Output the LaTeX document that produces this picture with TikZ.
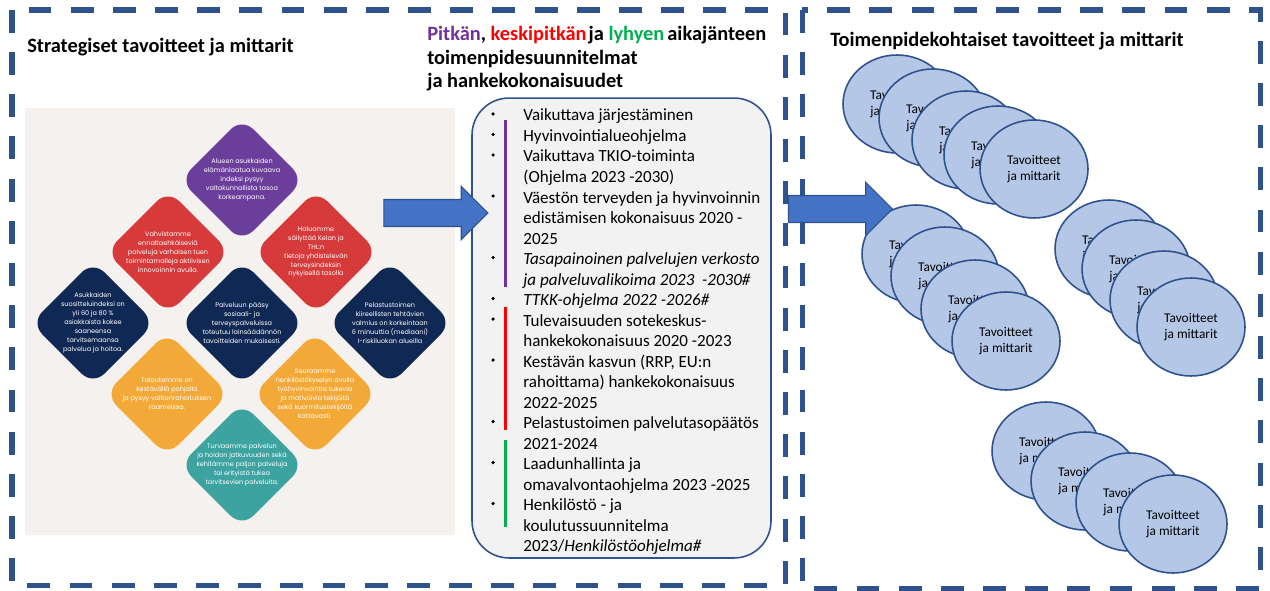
\documentclass[tikz,border=0pt]{standalone}
\usepackage{fontspec}
\setmainfont{Carlito}
\newfontfamily\timanttifont{Poppins}
\usetikzlibrary{shapes.geometric,shapes.arrows}

\definecolor{kehys}{RGB}{47,82,143}
\definecolor{nuoli}{RGB}{68,114,196}
\definecolor{pallo}{RGB}{180,199,231}
\definecolor{laatikko}{RGB}{242,242,242}
\definecolor{kuvatausta}{RGB}{244,241,238}
\definecolor{violetti}{RGB}{112,48,160}
\definecolor{punainen}{RGB}{255,0,0}
\definecolor{vihrea}{RGB}{0,176,80}
\definecolor{dvioletti}{RGB}{107,62,155}
\definecolor{dpunainen}{RGB}{214,58,58}
\definecolor{dsininen}{RGB}{16,40,84}
\definecolor{doranssi}{RGB}{242,169,56}
\definecolor{dturkoosi}{RGB}{60,163,160}

\tikzset{
  katkoviiva/.style={draw=kehys, line width=2.85pt, dash pattern=on 13pt off 11pt},
  otsikko/.style={anchor=base west, align=left, inner sep=0,
    font=\fontsize{11.6}{13.6}\selectfont\bfseries},
  rivi/.style={anchor=base west, inner sep=0, font=\fontsize{9.7}{11.7}\selectfont},
  tavoite/.style={ellipse, draw=kehys, line width=0.9pt, fill=pallo,
    minimum width=2.16cm, minimum height=1.96cm, inner sep=0, align=center,
    font=\fontsize{7.6}{8.6}\selectfont},
  iso nuoli/.style={single arrow, draw=kehys, line width=0.6pt, fill=nuoli,
    minimum height=2.08cm, inner sep=0.26cm, single arrow head extend=0.26cm},
  timanttiteksti/.style={text=white, align=center, inner sep=0,
    font=\timanttifont\fontsize{3.7}{5.1}\selectfont}
}

% nimi, x, y, vari, teksti
\newcommand{\timantti}[5]{%
  \fill[#4, rounded corners=9pt] (#2,#3) ++(31,-31) -- ++(31,31) -- ++(-62,62)
    -- ++(-62,-62) -- ++(62,-62) -- cycle;
  \node[timanttiteksti] (#1) at (#2,#3) {#5};
}

\begin{document}
\begin{tikzpicture}[x=0.02cm, y=-0.02cm]
  \useasboundingbox (0,0) rectangle (1270,591);

  % kehykset
  \draw[katkoviiva] (12,10) rectangle (785,585);
  \draw[katkoviiva] (802,10) rectangle (1260,588);

  % otsikot
  \node[otsikko] (strateginen) at (27,53) {Strategiset tavoitteet ja mittarit};
  \node[otsikko] (suunnitelmat) at (427,88) {\textcolor{violetti}{Pitkän}, \textcolor{punainen}{keskipitkän}\hspace{0.1em}ja \textcolor{vihrea}{lyhyen}\hspace{0.15em}aikajänteen\\toimenpidesuunnitelmat\\ja hankekokonaisuudet};
  \node[otsikko] (toimenpiteet) at (830,47) {Toimenpidekohtaiset tavoitteet ja mittarit};

  % strategiakuva
  \fill[kuvatausta] (25,108) rectangle (455,535);
  \timantti{ylin}{242}{180}{dvioletti}{Alueen asukkaiden\\elämänlaatua kuvaava\\indeksi pysyy\\valtakunnallista tasoa\\korkeampana.}
  \timantti{ennalta}{168}{252}{dpunainen}{Vahvistamme\\ennaltaehkäiseviä\\palveluja varhaisen tuen\\toimintamalleja aktiivisen\\innovoinnin avulla.}
  \timantti{terveys}{316}{252}{dpunainen}{Haluamme\\säilyttää Kelan ja\\THL:n\\tietoja yhdistelevän\\terveysindeksin\\nykyisellä tasolla}
  \timantti{suosittelu}{93}{323}{dsininen}{Asukkaiden\\suositteluindeksi on\\yli 60 ja 80 \%\\asiakkaista kokee\\saaneensa\\tarvitsemaansa\\palvelua ja hoitoa.}
  \timantti{paasy}{242}{323}{dsininen}{Palveluun pääsy\\sosiaali- ja\\terveyspalveluissa\\toteutuu lainsäädännön\\tavoitteiden mukaisesti.}
  \timantti{pelastus}{390}{323}{dsininen}{Pelastustoimen\\kiireellisten tehtävien\\valmius on korkeintaan\\6 minuuttia (mediaani)\\I-riskiluokan alueilla}
  \timantti{talous}{167}{394}{doranssi}{Taloutemme on\\kestävällä pohjalla\\ja pysyy valtionrahoituksen\\raameissa.}
  \timantti{henkilosto}{315}{394}{doranssi}{Seuraamme\\henkilöstökyselyn avulla\\työhyvinvointia tukevia\\ja motivoivia tekijöitä\\sekä kuormitustekijöitä\\kattavasti.}
  \timantti{jatkuvuus}{242}{465}{dturkoosi}{Turvaamme palvelun\\ja hoidon jatkuvuuden sekä\\kehitämme paljon palveluja\\tai erityistä tukea\\tarvitsevien palveluita.}

  % suunnitelmalista
  \node[draw=kehys, fill=laatikko, rounded corners=21pt, line width=0.9pt,
    minimum width=5.98cm, minimum height=9.2cm, inner sep=0] (ohjelmat) at (621.5,328) {};
  \foreach \teksti [count=\i] in {
    Vaikuttava järjestäminen,
    Hyvinvointialueohjelma,
    Vaikuttava TKIO-toiminta,
    (Ohjelma 2023 -2030),
    Väestön terveyden ja hyvinvoinnin,
    edistämisen kokonaisuus 2020 -,
    2025,
    \textit{Tasapainoinen palvelujen verkosto},
    \textit{ja palveluvalikoima 2023 \ -2030\#},
    \textit{TTKK-ohjelma 2022 -2026\#},
    Tulevaisuuden sotekeskus-,
    hankekokonaisuus 2020 -2023,
    {Kestävän kasvun (RRP, EU:n},
    rahoittama) hankekokonaisuus,
    2022-2025,
    Pelastustoimen palvelutasopäätös,
    2021-2024,
    Laadunhallinta ja,
    omavalvontaohjelma 2023 -2025,
    Henkilöstö - ja,
    koulutussuunnitelma,
    2023/\textit{Henkilöstöohjelma\#}}
    \node[rivi] (rivi\i) at (523,{121+20.5*(\i-1)}) {\teksti};
  \foreach \i in {1,2,3,5,8,10,11,13,16,18,20}
    \fill (493,{114+20.5*(\i-1)}) circle (1pt);
  \draw[violetti, line width=1.7pt] (505,120) -- (505,287);
  \draw[punainen, line width=1.7pt] (505,307) -- (505,430);
  \draw[vihrea, line width=1.7pt] (505,440) -- (505,527);

  % toimenpiteiden tavoitteet
  \foreach \x/\y [count=\i] in {897/104, 933/118, 966/140, 998/155, 1034/169,
      916/254, 945/276, 975/309, 1006/341,
      1109/249, 1136/269, 1164/300, 1191/327,
      1046/451, 1085/481, 1130/502, 1173/524}
    \node[tavoite] (tavoite\i) at (\x,\y) {Tavoitteet\\ja mittarit};

  % nuolet
  \node[iso nuoli] (nuoli1) at (429,213) {};
  \node[iso nuoli] (nuoli2) at (833.5,209) {};
\end{tikzpicture}
\end{document}
